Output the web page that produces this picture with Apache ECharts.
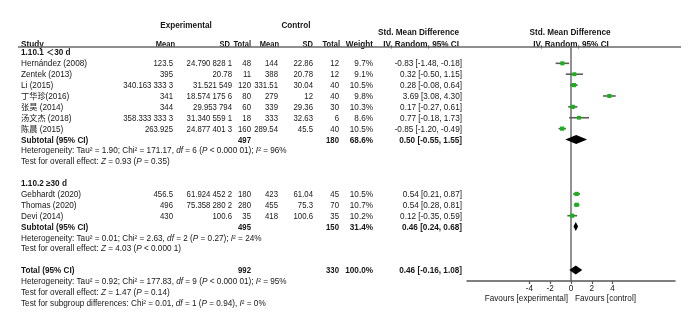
<!DOCTYPE html>
<html><head><meta charset="utf-8">
<script src="https://cdn.jsdelivr.net/npm/echarts@6/dist/echarts.min.js"></script>
<style>html,body{margin:0;padding:0;background:#fff}#c{width:700px;height:329px}</style>
</head><body><div id="c"></div>
<script>
// ---------- data ----------
const studies = ['Hernández (2008)','Zentek (2013)','Li (2015)','丁华珍(2016)','张昊 (2014)','汤文杰 (2018)','陈晨 (2015)','Gebhardt (2020)','Thomas (2020)','Devi (2014)'];
const studyGroup = [0,0,0,0,0,0,0,1,1,1];
const expMean = [123.5,395,340.1633333,341,344,358.3333333,263.925,456.5,496,430];
const expSD = [24.7908281,20.78,31.521549,18.5741756,29.953794,31.3405591,24.8774013,61.9244522,75.3582802,100.6];
const expTotal = [48,11,120,80,60,18,160,180,280,35];
const ctlMean = [144,388,331.51,279,339,333,289.54,423,455,418];
const ctlSD = [22.86,20.78,30.04,12,29.36,32.63,45.5,61.04,75.3,100.6];
const ctlTotal = [12,12,40,40,30,6,40,45,70,35];
const weight = [9.7,9.1,10.5,9.8,10.3,8.6,10.5,10.5,10.7,10.2];
const smd = [-0.83,0.32,0.28,3.69,0.17,0.77,-0.85,0.54,0.54,0.12];
const ciLow = [-1.48,-0.50,-0.08,3.08,-0.27,-0.18,-1.20,0.21,0.28,-0.35];
const ciHigh = [-0.18,1.15,0.64,4.30,0.61,1.73,-0.49,0.87,0.81,0.59];

const subgroupTitles = ['1.10.1 ＜30 d','1.10.2 ≥30 d'];
const pooledLabels = ['Subtotal (95% CI)','Subtotal (95% CI)','Total (95% CI)'];
const pooledExpTotal = [497,495,992];
const pooledCtlTotal = [180,150,330];
const pooledWeight = [68.6,31.4,100.0];
const pooledSmd = [0.50,0.46,0.46];
const pooledLow = [-0.55,0.24,-0.16];
const pooledHigh = [1.55,0.68,1.08];
const heterogeneity = [
  'Heterogeneity: Tau² = 1.90; Chi² = 171.17, {i|df} = 6 ({i|P} < 0.000 01); {i|I}² = 96%',
  'Heterogeneity: Tau² = 0.01; Chi² = 2.63, {i|df} = 2 ({i|P} = 0.27); {i|I}² = 24%',
  'Heterogeneity: Tau² = 0.92; Chi² = 177.83, {i|df} = 9 ({i|P} < 0.000 01); {i|I}² = 95%'
];
const overallTests = [
  'Test for overall effect: {i|Z} = 0.93 ({i|P} = 0.35)',
  'Test for overall effect: {i|Z} = 4.03 ({i|P} < 0.000 1)',
  'Test for overall effect: {i|Z} = 1.47 ({i|P} = 0.14)'
];
const subgroupTest = 'Test for subgroup differences: Chi² = 0.01, {i|df} = 1 ({i|P} = 0.94), {i|I}² = 0%';
const xTicks = [-4,-2,0,2,4];
const xLabelsFavour = ['Favours [experimental]','Favours [control]'];

// ---------- layout ----------
const FONT = '"Liberation Sans", Arial, "Noto Sans CJK SC", sans-serif';
const FS = 8.2;
const NUM_SX = 0.95, HEAD_SX = 0.92;
const COL = {study:21, eMean:173, eSD:232, eTot:251, cMean:278, cSD:313, cTot:339, wt:373, ci:462};
const fmtDec = v => { const s = String(v); const p = s.split('.'); if (!p[1] || p[1].length <= 3) return s; return p[0] + '.' + p[1].match(/.{1,3}/g).join(' '); };
const fmtCI = (e,l,h) => e.toFixed(2) + ' [' + l.toFixed(2) + ', ' + h.toFixed(2) + ']';

const texts = [];   // {x,row,t,align,bold,sx}
const forest = [];  // [est, lo, hi, row, weight]
const diamonds = []; // [est, lo, hi, row]
const T = (x,row,t,align,bold,sx) => texts.push({x,row,t,align:align||'right',bold:!!bold,sx:sx||1});

// header
T(186,-2.52,'Experimental','center',true);
T(296,-2.52,'Control','center',true);
T(459,-1.87,'Std. Mean Difference','right',true);
T(570,-1.87,'Std. Mean Difference','center',true);
T(COL.study,-0.82,'Study','left',true);
T(175,-0.82,'Mean','right',true,HEAD_SX);
T(230,-0.82,'SD','right',true,HEAD_SX);
T(COL.eTot,-0.82,'Total','right',true,HEAD_SX);
T(279,-0.82,'Mean','right',true,HEAD_SX);
T(COL.cSD,-0.82,'SD','right',true,HEAD_SX);
T(COL.cTot+1,-0.82,'Total','right',true,HEAD_SX);
T(COL.wt,-0.82,'Weight','right',true);
T(459,-0.82,'IV, Random, 95% CI','right',true);
T(571,-0.82,'IV, Random, 95% CI','center',true);

let row = 0;
[0,1].forEach(g => {
  T(COL.study,row,subgroupTitles[g],'left',true); row++;
  studies.forEach((s,i) => {
    if (studyGroup[i] !== g) return;
    T(COL.study,row,s,'left');
    T(COL.eMean,row,fmtDec(expMean[i]),'right',false,NUM_SX);
    T(COL.eSD,row,fmtDec(expSD[i]),'right',false,NUM_SX);
    T(COL.eTot,row,String(expTotal[i]),'right',false,NUM_SX);
    T(COL.cMean,row,fmtDec(ctlMean[i]),'right',false,NUM_SX);
    T(COL.cSD,row,fmtDec(ctlSD[i]),'right',false,NUM_SX);
    T(COL.cTot,row,String(ctlTotal[i]),'right',false,NUM_SX);
    T(COL.wt,row,weight[i].toFixed(1)+'%');
    T(COL.ci,row,fmtCI(smd[i],ciLow[i],ciHigh[i]));
    forest.push([smd[i],ciLow[i],ciHigh[i],row,weight[i]]);
    row++;
  });
  T(COL.study,row,pooledLabels[g],'left',true);
  T(COL.eTot,row,String(pooledExpTotal[g]),'right',true,NUM_SX);
  T(COL.cTot,row,String(pooledCtlTotal[g]),'right',true,NUM_SX);
  T(COL.wt,row,pooledWeight[g].toFixed(1)+'%','right',true);
  T(COL.ci,row,fmtCI(pooledSmd[g],pooledLow[g],pooledHigh[g]),'right',true);
  diamonds.push([pooledSmd[g],pooledLow[g],pooledHigh[g],row]);
  row++;
  T(COL.study,row,heterogeneity[g],'left'); row++;
  T(COL.study,row,overallTests[g],'left'); row++;
  row++;
});
T(COL.study,row,pooledLabels[2],'left',true);
T(COL.eTot,row,String(pooledExpTotal[2]),'right',true,NUM_SX);
T(COL.cTot,row,String(pooledCtlTotal[2]),'right',true,NUM_SX);
T(COL.wt,row,pooledWeight[2].toFixed(1)+'%','right',true);
T(COL.ci,row,fmtCI(pooledSmd[2],pooledLow[2],pooledHigh[2]),'right',true);
diamonds.push([pooledSmd[2],pooledLow[2],pooledHigh[2],row]);
row++;
T(COL.study,row,heterogeneity[2],'left'); row++;
T(COL.study,row,overallTests[2],'left'); row++;
T(COL.study,row,subgroupTest,'left'); row++;

const TXT = '#161616';
const rich = {i:{fontStyle:'italic', fontSize:FS, fontFamily:FONT, fill:TXT}};

const chart = echarts.init(document.getElementById('c'), null, {renderer:'canvas'});
chart.setOption({
  animation:false,
  backgroundColor:'#fff',
  grid:[
    {left:0, right:0, top:47.8, height:234},
    {left:467, width:208, top:47, height:234}
  ],
  xAxis:[
    {gridIndex:0, type:'value', min:0, max:700, show:false},
    {gridIndex:1, type:'value', min:-10, max:10, interval:2,
     axisLine:{onZero:false, lineStyle:{color:'#555', width:1.5}},
     axisTick:{show:true, customValues:xTicks, length:3, lineStyle:{color:'#555', width:1.2}},
     axisLabel:{customValues:xTicks, margin:3.5, fontSize:FS, fontFamily:FONT, color:TXT},
     splitLine:{show:false}}
  ],
  yAxis:[
    {gridIndex:0, type:'value', min:-0.5, max:21, inverse:true, show:false},
    {gridIndex:1, type:'value', min:-0.5, max:21, inverse:true,
     axisLine:{show:true, onZero:true, lineStyle:{color:'#6e6e6e', width:1.5}},
     axisTick:{show:false}, axisLabel:{show:false}, splitLine:{show:false}}
  ],
  graphic:[
    {type:'line', shape:{x1:18,y1:47,x2:681,y2:47}, style:{stroke:'#6a6a6a', lineWidth:1.6}, z:10},
    {type:'text', x:568, y:299, style:{text:xLabelsFavour[0], align:'right', verticalAlign:'middle', fontSize:FS, fontFamily:FONT, fill:TXT}},
    {type:'text', x:575, y:299, style:{text:xLabelsFavour[1], align:'left', verticalAlign:'middle', fontSize:FS, fontFamily:FONT, fill:TXT}}
  ],
  series:[
    {type:'custom', xAxisIndex:0, yAxisIndex:0, clip:false, silent:true,
     data:texts.map(t => [t.x, t.row]),
     encode:{x:0, y:1},
     renderItem:(params, api) => {
       const t = texts[params.dataIndex];
       const p = api.coord([api.value(0), api.value(1)]);
       return {type:'text', x:p[0], y:p[1], scaleX:t.sx, style:{text:t.t, align:t.align, verticalAlign:'middle',
         fontSize:FS, fontFamily:FONT, fontWeight:t.bold?'bold':'normal', fill:TXT, rich:rich}};
     }},
    {type:'custom', xAxisIndex:1, yAxisIndex:1, clip:false, silent:true,
     data:forest, encode:{x:[0,1,2], y:3},
     renderItem:(params, api) => {
       const e = api.value(0), l = api.value(1), h = api.value(2), r = api.value(3), w = api.value(4);
       const pl = api.coord([l,r]), ph = api.coord([h,r]), pe = api.coord([e,r]);
       const s = Math.sqrt(w) * 1.3;
       return {type:'group', children:[
         {type:'line', shape:{x1:pl[0], y1:pl[1], x2:ph[0], y2:ph[1]}, style:{stroke:'#5c5c5c', lineWidth:1.6}},
         {type:'rect', shape:{x:pe[0]-s/2, y:pe[1]-s/2, width:s, height:s}, style:{fill:'#17b417'}}
       ]};
     }},
    {type:'custom', xAxisIndex:1, yAxisIndex:1, clip:false, silent:true,
     data:diamonds, encode:{x:[0,1,2], y:3},
     renderItem:(params, api) => {
       const e = api.value(0), l = api.value(1), h = api.value(2), r = api.value(3);
       const pl = api.coord([l,r]), ph = api.coord([h,r]), pe = api.coord([e,r]);
       const hh = 4.5;
       return {type:'polygon', shape:{points:[[pl[0],pl[1]],[pe[0],pe[1]-hh],[ph[0],ph[1]],[pe[0],pe[1]+hh]]}, style:{fill:'#000'}};
     }}
  ]
});
</script>
</body></html>
